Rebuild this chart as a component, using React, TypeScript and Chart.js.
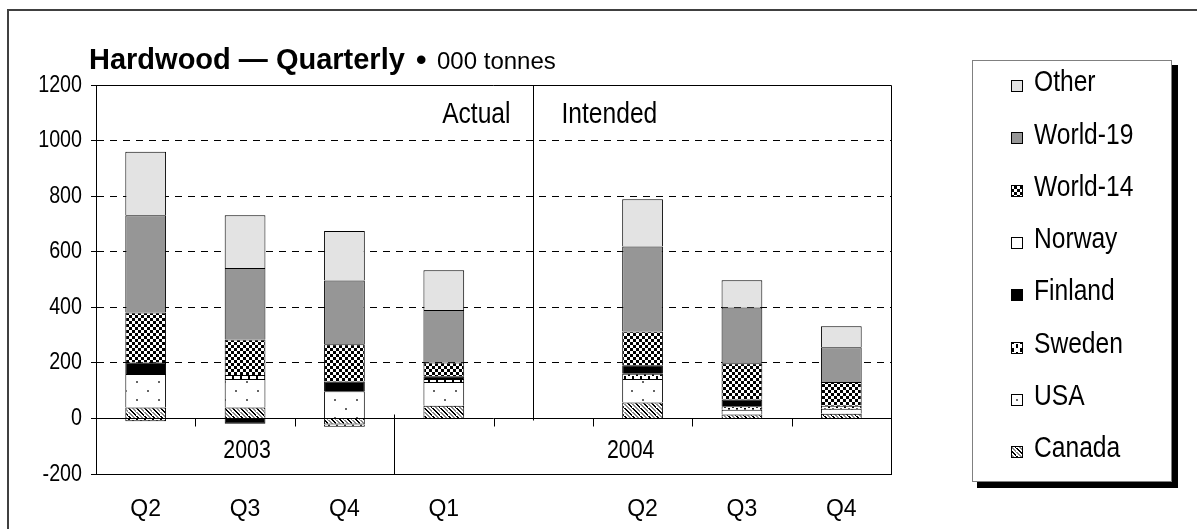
import React, { useEffect, useRef } from "react";
import { Chart, registerables } from "chart.js";

Chart.register(...registerables);

// ---- data ----
const categories = ["Q2", "Q3", "Q4", "Q1", "", "Q2", "Q3", "Q4"];
const yearLabels = ["2003", "2004"];
const phaseLabels = ["Actual", "Intended"];
const titleMain = "Hardwood — Quarterly";
const titleUnit = "000 tonnes";

const canada = [39, 39, -22, 46, null, 57, 14, 17];
const usa = [121, 103, 98, 85, null, 85, 17, 18];
const sweden = [-10, 14, -8, 11, null, 19, 13, 11];
const finland = [41, -19, 35, 10, null, 30, 24, null];
const norway = [null, null, null, null, null, null, null, null];
const world14 = [180, 128, 134, 49, null, 122, 131, 85];
const world19 = [350, 257, 229, 189, null, 306, 200, 125];
const other = [229, 190, 179, 143, null, 170, 98, 76];

const yMin = -200;
const yMax = 1200;
const yStep = 200;

// "xcond" is a marker family: text using it is drawn horizontally condensed
const COND = '"Liberation Sans", xcond, sans-serif';
const SANS = '"Liberation Sans", Arial, sans-serif';
const CONDENSE = 0.82;

function makePattern(w: number, h: number, draw: (g: CanvasRenderingContext2D) => void) {
  const c = document.createElement("canvas");
  c.width = w;
  c.height = h;
  const g = c.getContext("2d")!;
  draw(g);
  return g.createPattern(c, "repeat")!;
}

export default function App() {
  const ref = useRef<HTMLCanvasElement>(null);

  useEffect(() => {
    const canvas = ref.current;
    if (!canvas) return;
    const c2d = canvas.getContext("2d")!;
    const origFill = c2d.fillText.bind(c2d);
    (c2d as any).fillText = function (text: string, x: number, y: number, maxWidth?: number) {
      if (String(c2d.font).indexOf("xcond") >= 0) {
        c2d.save();
        c2d.translate(x, y);
        c2d.scale(CONDENSE, 1);
        origFill(text, 0, 0);
        c2d.restore();
      } else if (maxWidth !== undefined) {
        origFill(text, x, y, maxWidth);
      } else {
        origFill(text, x, y);
      }
    };

    const pCanada = makePattern(8, 8, (g) => {
      g.fillStyle = "#fff";
      g.fillRect(0, 0, 8, 8);
      for (let i = 0; i < 8; i++) {
        g.fillStyle = "#000";
        g.fillRect(i, i, 2, 1);
        g.fillStyle = "#888";
        g.fillRect((i + 4) % 8, i, 2, 1);
      }
    });
    const pUSA = makePattern(22, 18, (g) => {
      g.fillStyle = "#fff";
      g.fillRect(0, 0, 22, 18);
      g.fillStyle = "#666";
      g.fillRect(4, 3, 2, 2);
      g.fillRect(15, 12, 2, 2);
    });
    const pSweden = makePattern(8, 8, (g) => {
      g.fillStyle = "#fff";
      g.fillRect(0, 0, 8, 8);
      g.fillStyle = "#000";
      g.fillRect(0, 0, 2, 4);
      g.fillRect(4, 4, 2, 4);
    });
    const pW14 = makePattern(6, 6, (g) => {
      g.fillStyle = "#fff";
      g.fillRect(0, 0, 6, 6);
      g.fillStyle = "#000";
      g.fillRect(0, 0, 3, 3);
      g.fillRect(3, 3, 3, 3);
    });

    const series = [
      { label: "Canada", data: canada, fill: pCanada },
      { label: "USA", data: usa, fill: pUSA },
      { label: "Sweden", data: sweden, fill: pSweden },
      { label: "Finland", data: finland, fill: "#000000" },
      { label: "Norway", data: norway, fill: "#ffffff" },
      { label: "World-14", data: world14, fill: pW14 },
      { label: "World-19", data: world19, fill: "#969696" },
      { label: "Other", data: other, fill: "#e3e3e3" },
    ];

    const decor = {
      id: "decor",
      afterDraw(chart: any) {
        const ctx = chart.ctx as CanvasRenderingContext2D;
        const x = chart.scales.x;
        const y = chart.scales.y;
        const a = chart.chartArea;
        const zero = Math.round(y.getPixelForValue(0)) + 0.5;
        ctx.save();
        // outer frame
        ctx.fillStyle = "#404040";
        ctx.fillRect(7, 9, 2, 520);
        ctx.fillRect(7, 9, 1190, 2);
        // plot border top/right
        ctx.strokeStyle = "#000";
        ctx.lineWidth = 1;
        ctx.beginPath();
        ctx.moveTo(a.left, a.top + 0.5);
        ctx.lineTo(a.right + 0.5, a.top + 0.5);
        ctx.lineTo(a.right + 0.5, a.bottom);
        ctx.stroke();
        // zero line
        ctx.beginPath();
        ctx.moveTo(a.left, zero);
        ctx.lineTo(a.right, zero);
        ctx.stroke();
        // tick marks at category boundaries, long separator between years
        for (let i = 1; i < categories.length; i++) {
          const bx = Math.round((x.getPixelForValue(i - 1) + x.getPixelForValue(i)) / 2) + 0.5;
          ctx.beginPath();
          if (i === 3) {
            ctx.moveTo(bx, zero - 4);
            ctx.lineTo(bx, a.bottom);
          } else {
            ctx.moveTo(bx, zero);
            ctx.lineTo(bx, zero + 8);
          }
          ctx.stroke();
        }
        // actual / intended divider
        const dx = Math.round(x.getPixelForValue(3.9)) + 0.5;
        ctx.beginPath();
        ctx.moveTo(dx, a.top);
        ctx.lineTo(dx, zero + 2);
        ctx.stroke();

        ctx.fillStyle = "#000";
        ctx.font = `30px ${COND}`;
        ctx.textBaseline = "middle";
        ctx.textAlign = "right";
        ctx.fillText(phaseLabels[0], dx - 23, 115);
        ctx.textAlign = "left";
        ctx.fillText(phaseLabels[1], dx + 28, 115);

        // year labels
        const sep = (x.getPixelForValue(2) + x.getPixelForValue(3)) / 2;
        const gy = (zero + a.bottom) / 2 + 5;
        ctx.font = `26px ${COND}`;
        ctx.textAlign = "center";
        ctx.fillText(yearLabels[0], (a.left + sep) / 2 + 2, gy);
        ctx.fillText(yearLabels[1], x.getPixelForValue(4.88), gy);

        // title
        ctx.textAlign = "left";
        ctx.textBaseline = "alphabetic";
        ctx.font = `bold 29px ${SANS}`;
        ctx.fillText(titleMain, 89, 69);
        ctx.font = `bold 30px ${SANS}`;
        ctx.fillText("•", 416, 70);
        ctx.font = `24px ${SANS}`;
        ctx.fillText(titleUnit, 437, 69);

        // legend
        ctx.fillStyle = "#000";
        ctx.fillRect(1172, 65, 6, 423);
        ctx.fillRect(977, 482, 201, 6);
        ctx.fillStyle = "#fff";
        ctx.fillRect(973, 60, 199, 422);
        ctx.strokeStyle = "#808080";
        ctx.strokeRect(972.5, 60.5, 199, 421);
        ctx.font = `30px ${COND}`;
        ctx.textBaseline = "middle";
        const items = [...series].reverse();
        items.forEach((s, k) => {
          const cy = 83 + k * 52.3;
          const my = Math.round(cy - 2);
          ctx.fillStyle = s.fill as any;
          ctx.fillRect(1012, my, 10, 10);
          ctx.strokeStyle = "#000";
          ctx.strokeRect(1011.5, my - 0.5, 11, 11);
          ctx.fillStyle = "#000";
          ctx.fillText(s.label, 1034, cy);
        });
        ctx.restore();
      },
    };

    const chart = new Chart(canvas, {
      type: "bar",
      data: {
        labels: categories,
        datasets: series.map((s) => ({
          label: s.label,
          data: s.data as any,
          backgroundColor: s.fill as any,
          borderColor: "#000",
          borderWidth: 1,
          borderSkipped: "start",
          barPercentage: 0.41,
          categoryPercentage: 1,
        })),
      },
      options: {
        responsive: false,
        animation: false,
        events: [],
        layout: { padding: { top: 85, right: 306, bottom: 0, left: 0 } },
        plugins: {
          legend: { display: false },
          title: { display: false },
          tooltip: { enabled: false },
        },
        scales: {
          x: {
            stacked: true,
            grid: { display: false, drawTicks: false },
            border: { display: true, color: "#000", width: 1 },
            ticks: { color: "#000", font: { family: SANS, size: 23 }, padding: 22, maxRotation: 0, autoSkip: false },
            afterFit: (s: any) => {
              s.height = 55;
            },
          },
          y: {
            stacked: true,
            min: yMin,
            max: yMax,
            grid: {
              color: (c: any) =>
                c.tick && c.tick.value > yMin && c.tick.value < yMax && c.tick.value !== 0 ? "#000" : "rgba(0,0,0,0)",
              tickColor: "#000",
              tickLength: 5,
              tickWidth: 1,
              tickBorderDash: [],
              lineWidth: 1,
            },
            border: { display: true, color: "#000", width: 1, dash: [7, 6] },
            ticks: {
              stepSize: yStep,
              color: "#000",
              padding: 9,
              font: { family: COND, size: 24 },
              callback: (v: any) => String(v),
            },
            afterFit: (s: any) => {
              s.width = 96;
            },
          },
        },
      },
      plugins: [decor],
    });

    return () => chart.destroy();
  }, []);

  return (
    <canvas
      ref={ref}
      width={1197}
      height={529}
      style={{ position: "fixed", left: 0, top: 0, width: 1197, height: 529 }}
    />
  );
}
